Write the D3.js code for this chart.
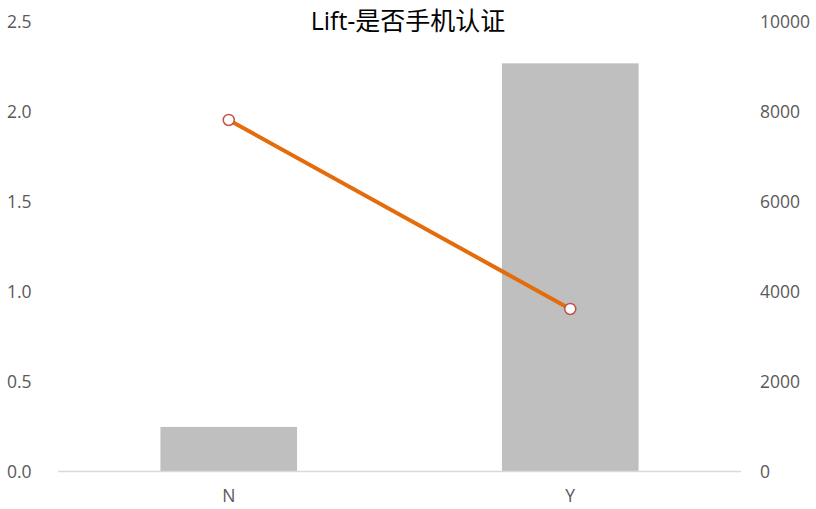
<!DOCTYPE html>
<html>
<head>
<meta charset="utf-8">
<script src="https://cdn.jsdelivr.net/npm/d3@7/dist/d3.min.js"></script>
<style>
  html, body { margin: 0; padding: 0; background: #fff; }
  svg { display: block; }
  text { font-family: "Open Sans", "Noto Sans", "Noto Sans CJK SC", sans-serif; }
</style>
</head>
<body>
<svg id="chart" width="816" height="509"></svg>
<script>
// Categories and series
const categories = ["N", "Y"];
const counts = [990, 9070];        // bar series, right axis
const lift = [1.953, 0.903];       // line series, left axis
const leftTicks = [0, 0.5, 1.0, 1.5, 2.0, 2.5];
const rightTicks = [0, 2000, 4000, 6000, 8000, 10000];
const title = "Lift-是否手机认证";

const svg = d3.select("#chart");
const plot = { left: 58, right: 741, top: 21.5, bottom: 471.5 };

const x = d3.scaleBand().domain(categories).range([plot.left, plot.right]).paddingInner(0.6).paddingOuter(0.3);
const yL = d3.scaleLinear().domain([0, 2.5]).range([plot.bottom, plot.top]);
const yR = d3.scaleLinear().domain([0, 10000]).range([plot.bottom, plot.top]);

// Bars
svg.append("g").selectAll("rect").data(categories).join("rect")
  .attr("x", d => x(d))
  .attr("width", x.bandwidth())
  .attr("y", (d, i) => yR(counts[i]))
  .attr("height", (d, i) => plot.bottom - yR(counts[i]))
  .attr("fill", "#bfbfbf");

// Baseline
svg.append("line")
  .attr("x1", plot.left).attr("x2", plot.right)
  .attr("y1", plot.bottom).attr("y2", plot.bottom)
  .attr("stroke", "#d9d9d9").attr("stroke-width", 1.5);

const labelSize = "17.5px";

// Left axis labels
const leftAxis = d3.axisLeft(yL).tickValues(leftTicks).tickFormat(d3.format(".1f")).tickSize(0);
const gL = svg.append("g").attr("transform", "translate(7,0)").call(leftAxis);
gL.select(".domain").remove();
gL.selectAll("text").attr("text-anchor", "start").attr("x", 0).attr("dy", "0.35em")
  .attr("fill", "#595959").style("font-size", labelSize);

// Right axis labels
const rightAxis = d3.axisRight(yR).tickValues(rightTicks).tickFormat(d3.format("d")).tickSize(0);
const gR = svg.append("g").attr("transform", "translate(760,0)").call(rightAxis);
gR.select(".domain").remove();
gR.selectAll("text").attr("x", 0).attr("dy", "0.35em")
  .attr("fill", "#595959").style("font-size", labelSize);

// Category axis labels
const bottomAxis = d3.axisBottom(x).tickSize(0);
const gB = svg.append("g").attr("transform", `translate(0,${plot.bottom})`).call(bottomAxis);
gB.select(".domain").remove();
gB.selectAll("text").attr("y", 18).attr("dy", "0.71em")
  .attr("fill", "#595959").style("font-size", labelSize);

// Lift line
const cx = d => x(d) + x.bandwidth() / 2;
const line = d3.line().x((d, i) => cx(categories[i])).y(d => yL(d));
svg.append("path").datum(lift)
  .attr("d", line)
  .attr("fill", "none")
  .attr("stroke", "#e46c0a")
  .attr("stroke-width", 4)
  .attr("stroke-linecap", "round");

svg.append("g").selectAll("circle").data(lift).join("circle")
  .attr("cx", (d, i) => cx(categories[i]))
  .attr("cy", d => yL(d))
  .attr("r", 5.5)
  .attr("fill", "#fff")
  .attr("stroke", "#c0504d")
  .attr("stroke-width", 1.5);

// Title
svg.append("text")
  .attr("x", 408).attr("y", 21).attr("dy", "0.35em")
  .attr("text-anchor", "middle")
  .attr("fill", "#000")
  .style("font-size", "25px")
  .text(title);
</script>
</body>
</html>
